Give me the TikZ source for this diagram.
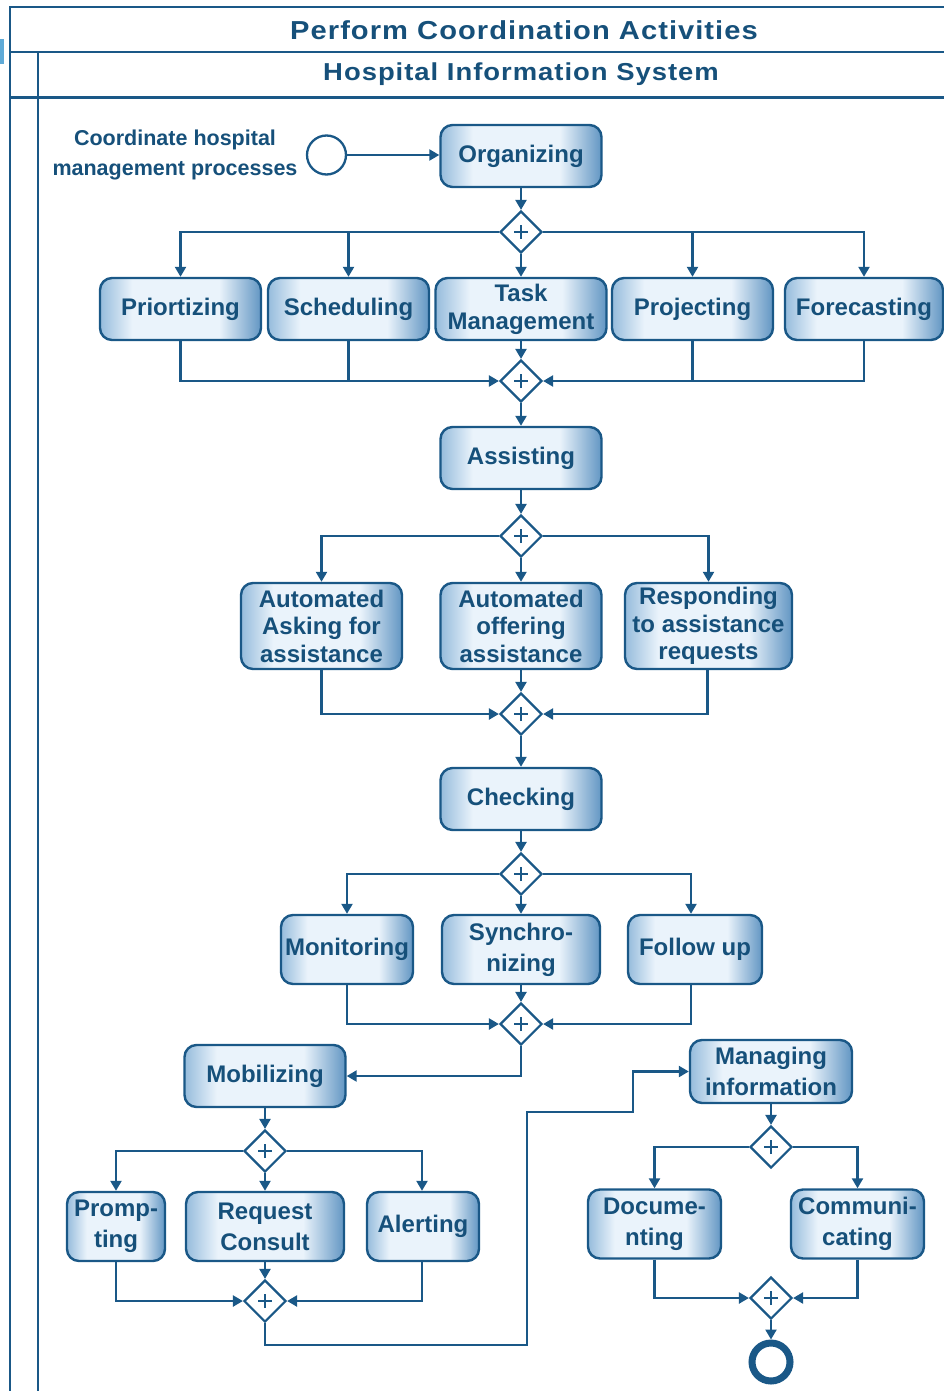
\documentclass[tikz,border=0pt]{standalone}
\usepackage{fontspec}
\setmainfont{Liberation Sans}
\newfontfamily\headfont[LetterSpace=4, FakeStretch=1.12]{Liberation Sans}
\usetikzlibrary{shapes.geometric,arrows.meta}

\definecolor{ink}{RGB}{22,80,122}
\definecolor{wire}{RGB}{26,88,135}
\definecolor{shL}{RGB}{150,188,220}
\definecolor{shM}{RGB}{234,243,251}
\definecolor{shR}{RGB}{98,150,195}
\definecolor{tab}{RGB}{95,170,215}

% the visible part of a TikZ shading is its middle band, 25bp to 75bp
\pgfdeclarehorizontalshading{taskfill}{100bp}{color(0bp)=(shL); color(25bp)=(shL); color(35bp)=(shM); color(62bp)=(shM); color(75bp)=(shR); color(100bp)=(shR)}

\tikzset{
  pool/.style={draw=wire, line width=2.4pt},
  task/.style={draw=wire, line width=2.4pt, rounded corners=12pt,
    shading=taskfill, shade, minimum width=161pt, minimum height=62pt,
    inner sep=0pt, align=center, text=ink,
    font=\fontsize{24}{28}\selectfont\bfseries},
  tall/.style={minimum height=86pt, font=\fontsize{24}{27.5}\selectfont\bfseries},
  mid/.style={minimum height=69pt, font=\fontsize{24}{31}\selectfont\bfseries},
  gate/.style={diamond, draw=wire, fill=white, line width=2.2pt,
    minimum width=42pt, minimum height=42pt, inner sep=0pt,
    path picture={
      \draw[wire, line width=2pt]
        ([xshift=-7pt]path picture bounding box.center) -- ([xshift=7pt]path picture bounding box.center)
        ([yshift=-7pt]path picture bounding box.center) -- ([yshift=7pt]path picture bounding box.center);
    }},
  startev/.style={circle, draw=wire, fill=white, line width=2.3pt, minimum size=39pt, inner sep=0pt},
  endev/.style={circle, draw=wire, fill=white, line width=7pt, minimum size=38pt, inner sep=0pt},
  flow/.style={draw=wire, line width=2.3pt, -{Triangle[length=10pt,width=11pt]}},
  link/.style={draw=wire, line width=2.3pt},
  lbl/.style={align=center, text=ink, inner sep=0pt, font=\fontsize{21.5}{30}\selectfont\bfseries},
  title/.style={text=ink, inner sep=0pt}
}

\begin{document}
\begin{tikzpicture}[x=1pt, y=-1pt]
\useasboundingbox (0,0) rectangle (943,1391);

% pool and lane frame
\fill[tab] (0,39) rectangle (4,64);
\draw[pool] (10,1400) -- (10,7) -- (950,7);
\draw[pool] (10,52) -- (950,52);
\draw[pool] (10,97.5) -- (950,97.5);
\draw[pool] (38,52) -- (38,1400);
\node[title, font=\headfont\bfseries\fontsize{26}{30}\selectfont] (pooltitle) at (524,30) {Perform Coordination Activities};
\node[title, font=\headfont\bfseries\fontsize{24.5}{29}\selectfont] (lanetitle) at (521,74) {Hospital Information System};

% start
\node[lbl] (lab) at (175,155) {Coordinate hospital\\management processes};
\node[startev] (start) at (326.5,155) {};
\node[task] (org) at (521,156) {Organizing};

% planning block
\node[gate] (g1) at (521,232) {};
\node[task] (prio) at (180.5,309) {Priortizing};
\node[task] (sched) at (348.5,309) {Scheduling};
\node[task, minimum width=171pt] (taskm) at (521,309) {Task\\Management};
\node[task] (proj) at (692.5,309) {Projecting};
\node[task, minimum width=158pt] (fore) at (864,309) {Forecasting};
\node[gate] (g2) at (521,381) {};

% assisting block
\node[task] (assist) at (521,458) {Assisting};
\node[gate] (g3) at (521,536) {};
\node[task, tall] (ask) at (321.5,626) {Automated\\Asking for\\assistance};
\node[task, tall] (offer) at (521,626) {Automated\\offering\\assistance};
\node[task, tall, minimum width=167pt] (resp) at (708.5,626) {Responding\\to assistance\\requests};
\node[gate] (g4) at (521,714) {};

% checking block
\node[task] (check) at (521,799) {Checking};
\node[gate] (g5) at (521,874) {};
\node[task, mid, minimum width=132pt] (mon) at (347,949.5) {Monitoring};
\node[task, mid, minimum width=158pt] (sync) at (521,949.5) {Synchro-\\nizing};
\node[task, mid, minimum width=134pt] (fol) at (695,949.5) {Follow up};
\node[gate] (g6) at (521,1024) {};

% mobilizing block
\node[task] (mob) at (265,1076) {Mobilizing};
\node[gate] (g7) at (265,1151) {};
\node[task, mid, minimum width=98pt] (prompt) at (116,1226.5) {Promp-\\ting};
\node[task, mid, minimum width=158pt] (req) at (265,1226.5) {Request\\Consult};
\node[task, mid, minimum width=112pt] (alert) at (423,1226.5) {Alerting};
\node[gate] (g8) at (265,1301) {};

% information block
\node[task, mid, minimum width=162pt, minimum height=63pt] (info) at (771,1071.5) {Managing\\information};
\node[gate] (g9) at (771,1147) {};
\node[task, mid, minimum width=133pt] (docu) at (654.5,1224) {Docume-\\nting};
\node[task, mid, minimum width=133pt] (comm) at (857.5,1224) {Communi-\\cating};
\node[gate] (g10) at (771,1298) {};
\node[endev] (end) at (771,1362) {};

\coordinate (r1) at (527,1345);
\coordinate (r2) at (633,1112);

% connectors
\draw[flow] (start) -- (start -| org.west);
\draw[flow] (org) -- (g1);
\draw[flow] (g1.west) -| (prio.north);
\draw[flow] (g1.west) -| (sched.north);
\draw[flow] (g1) -- (taskm);
\draw[flow] (g1.east) -| (proj.north);
\draw[flow] (g1.east) -| (fore.north);
\draw[flow] (prio.south) |- (g2.west);
\draw[link] (sched.south) -- (sched.south |- g2.west);
\draw[flow] (taskm) -- (g2);
\draw[flow] (fore.south) |- (g2.east);
\draw[link] (proj.south) -- (proj.south |- g2.east);
\draw[flow] (g2) -- (assist);

\draw[flow] (assist) -- (g3);
\draw[flow] (g3.west) -| (ask.north);
\draw[flow] (g3) -- (offer);
\draw[flow] (g3.east) -| (resp.north);
\draw[flow] (ask.south) |- (g4.west);
\draw[flow] (offer) -- (g4);
\draw[flow] ([xshift=-1pt]resp.south) |- (g4.east);
\draw[flow] (g4) -- (check);

\draw[flow] (check) -- (g5);
\draw[flow] (g5.west) -| (mon.north);
\draw[flow] (g5) -- (sync);
\draw[flow] (g5.east) -| ([xshift=-4pt]fol.north);
\draw[flow] (mon.south) |- (g6.west);
\draw[flow] (sync) -- (g6);
\draw[flow] ([xshift=-4pt]fol.south) |- (g6.east);
\draw[flow] (g6.south) |- (mob.east);

\draw[flow] (mob) -- (g7);
\draw[flow] (g7.west) -| (prompt.north);
\draw[flow] (g7) -- (req);
\draw[flow] (g7.east) -| ([xshift=-1pt]alert.north);
\draw[flow] (prompt.south) |- (g8.west);
\draw[flow] (req) -- (g8);
\draw[flow] ([xshift=-1pt]alert.south) |- (g8.east);
\draw[flow] (g8.south) |- (r1) |- (r2) |- (info.west);

\draw[flow] (info) -- (g9);
\draw[flow] (g9.west) -| (docu.north);
\draw[flow] (g9.east) -| (comm.north);
\draw[flow] (docu.south) |- (g10.west);
\draw[flow] (comm.south) |- (g10.east);
\draw[flow] (g10) -- (end);
\end{tikzpicture}
\end{document}
